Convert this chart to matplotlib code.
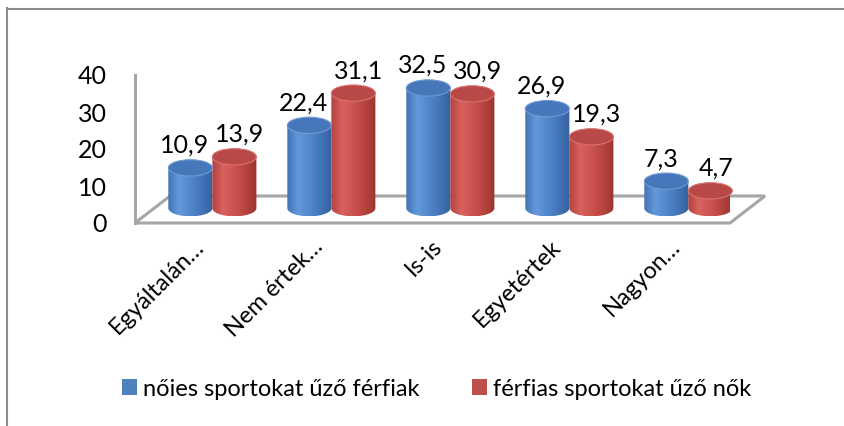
import numpy as np
import matplotlib.pyplot as plt
from matplotlib.colors import LinearSegmentedColormap
from matplotlib.patches import Ellipse, PathPatch, Patch, Polygon
from matplotlib.path import Path
from matplotlib.lines import Line2D

plt.rcParams['font.family'] = ['Lato', 'DejaVu Sans']

# Adatok
categories = ["Egyáltalán…", "Nem értek…", "Is-is", "Egyetértek", "Nagyon…"]
ferfiak = [10.9, 22.4, 32.5, 26.9, 7.3]
nok = [13.9, 31.1, 30.9, 19.3, 4.7]
series_names = ["nőies sportokat űző férfiak", "férfias sportokat űző nők"]
yticks = [0, 10, 20, 30, 40]

# 3D hatás: padló mélysége és az oszlopok helye a mélységben
DX_BACK, DY_BACK = 0.294, 7.3
DX, DY = 0.15, 4.0
W = 0.37      # henger szélessége
EH = 4.4      # ellipszis magassága (adategységben)

blue_cmap = LinearSegmentedColormap.from_list(
    "kek", ["#4172B4", "#6399DA", "#5288CB", "#4275B8", "#34609E"])
red_cmap = LinearSegmentedColormap.from_list(
    "piros", ["#B2413E", "#D9625E", "#CC5450", "#B8443F", "#9A3431"])


def henger(ax, xc, value, cmap, top_color, edge_color):
    x0, x1 = xc - W / 2, xc + W / 2
    base = DY
    top = base + value
    t = np.linspace(np.pi, 2 * np.pi, 60)
    verts = list(zip(xc + W / 2 * np.cos(t), base + EH / 2 * np.sin(t)))
    verts += [(x1, top), (x0, top), (x0, base)]
    body = PathPatch(Path(verts), facecolor="none", edgecolor="none")
    ax.add_patch(body)
    grad = np.linspace(0, 1, 256).reshape(1, -1)
    im = ax.imshow(grad, extent=(x0, x1, base - EH / 2, top), aspect="auto",
                   cmap=cmap, interpolation="bilinear", zorder=3)
    im.set_clip_path(body)
    im.set_clip_box(None)
    cap = Ellipse((xc, top), W, EH, facecolor=top_color, edgecolor=edge_color,
                  lw=0.8, zorder=4, clip_on=False)
    ax.add_patch(cap)
    return top + EH / 2


fig = plt.figure(figsize=(8.45, 4.26), dpi=100)
ax = fig.add_axes([135 / 845, 203 / 426, 595 / 845, 148 / 426])

# padló és függőleges fal
n = len(categories)
floor = [(-0.5, 0), (n - 0.5, 0), (n - 0.5 + DX_BACK, DY_BACK), (-0.5 + DX_BACK, DY_BACK)]
ax.add_patch(Polygon(floor, closed=True, facecolor="white", edgecolor="#A6A6A6",
                     lw=2.2, clip_on=False, zorder=1))
ax.plot([-0.5, -0.5], [0, 40], color="#A6A6A6", lw=2.2, clip_on=False, zorder=1)

for i in range(n):
    xb = i + DX - W / 2
    xr = i + DX + W / 2
    tb = henger(ax, xb, ferfiak[i], blue_cmap, "#4677BA", "#6E9AD4")
    tr = henger(ax, xr, nok[i], red_cmap, "#B94946", "#D8736F")
    ax.annotate(f"{ferfiak[i]:.1f}".replace(".", ","), xy=(xb, tb), xytext=(-4, 2),
                textcoords="offset points", ha="center", va="bottom", fontsize=18)
    ax.annotate(f"{nok[i]:.1f}".replace(".", ","), xy=(xr, tr), xytext=(4, 2),
                textcoords="offset points", ha="center", va="bottom", fontsize=18)
    ax.text(i + 0.05, -5.5, categories[i], rotation=45, ha="right", va="center",
            rotation_mode="anchor", fontsize=17)

ax.set_xlim(-0.5, n - 0.5)
ax.set_ylim(0, 40)
ax.set_xticks([])
ax.set_yticks(yticks)
ax.tick_params(axis="y", length=0, pad=20, labelsize=18)
for s in ax.spines.values():
    s.set_visible(False)
ax.patch.set_visible(False)

handles = [Patch(facecolor="#4F81BD", edgecolor="none"),
           Patch(facecolor="#C0504D", edgecolor="none")]
fig.legend(handles, series_names, loc="center", bbox_to_anchor=(436.5 / 845, 1 - 389 / 426),
           ncol=2, frameon=False, fontsize=17, handlelength=0.65, handleheight=0.65,
           handletextpad=0.25, columnspacing=2.2)

# keret a diagram körül
fig.add_artist(Line2D([7 / 845, 1], [1 - 8.5 / 426] * 2, transform=fig.transFigure,
                      color="#8C8C8C", lw=1.5))
fig.add_artist(Line2D([7.5 / 845] * 2, [0, 1 - 8 / 426], transform=fig.transFigure,
                      color="#8C8C8C", lw=1.5))

fig.savefig("out.png", dpi=100)
plt.close(fig)
